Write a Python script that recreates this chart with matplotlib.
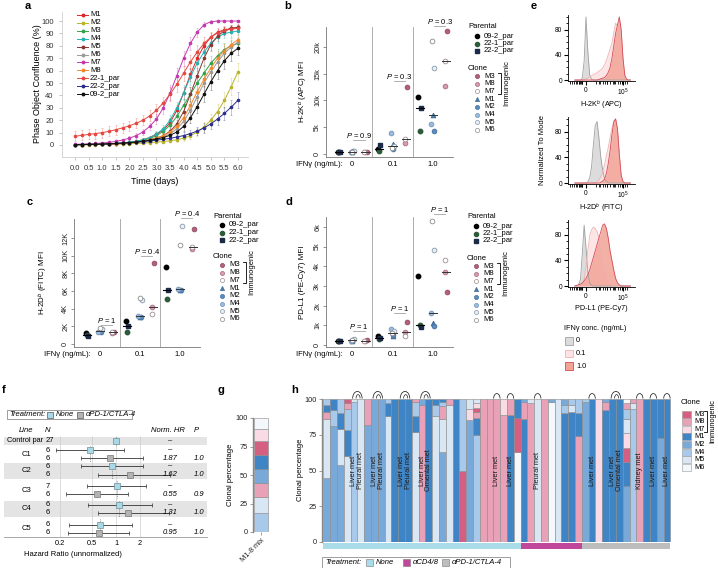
import matplotlib
matplotlib.use("Agg")
import numpy as np
import matplotlib.pyplot as plt
from matplotlib.colors import to_rgba
from matplotlib.patches import Rectangle, Arc

plt.rcParams['font.family'] = ['Liberation Sans', 'DejaVu Sans']
plt.rcParams['font.size'] = 5
plt.rcParams['mathtext.fontset'] = 'custom'
plt.rcParams['mathtext.rm'] = 'Liberation Sans'
plt.rcParams['mathtext.it'] = 'Liberation Sans:italic'
plt.rcParams['mathtext.bf'] = 'Liberation Sans:bold'
plt.rcParams['axes.linewidth'] = 0.6
plt.rcParams['xtick.major.size'] = 2
plt.rcParams['ytick.major.size'] = 2
plt.rcParams['xtick.major.width'] = 0.5
plt.rcParams['ytick.major.width'] = 0.5
plt.rcParams['xtick.major.pad'] = 1.5
plt.rcParams['ytick.major.pad'] = 1.5

# ---------------- data: panel a (growth curves) ----------------
time_days = [0.0, 0.25, 0.5, 0.75, 1.0, 1.25, 1.5, 1.75, 2.0, 2.25, 2.5, 2.75, 3.0,
             3.25, 3.5, 3.75, 4.0, 4.25, 4.5, 4.75, 5.0, 5.25, 5.5, 5.75, 6.0]
conf_M1 = [0.2, 0.3, 0.4, 0.5, 0.7, 0.9, 1.2, 1.6, 2.2, 3.0, 4.2, 6.0, 8.5, 12, 18, 28, 42, 57, 70, 80, 87, 91, 93, 94, 95]
conf_M2 = [0.1, 0.2, 0.2, 0.3, 0.4, 0.5, 0.6, 0.8, 1.0, 1.2, 1.5, 1.9, 2.3, 2.8, 3.4, 4.2, 5.5, 7.5, 10.5, 14.5, 20, 27, 36, 47, 59]
conf_M3 = [0.2, 0.3, 0.4, 0.5, 0.7, 0.9, 1.2, 1.6, 2.1, 2.8, 3.8, 5.2, 7.5, 11, 16, 23, 32, 41, 50, 58, 66, 72, 77, 80, 82]
conf_M4 = [0.2, 0.3, 0.4, 0.5, 0.7, 0.9, 1.2, 1.6, 2.2, 3.0, 4.2, 6.0, 9, 13, 20, 30, 42, 55, 66, 75, 82, 87, 90, 91, 92]
conf_M5 = [0.2, 0.3, 0.4, 0.5, 0.6, 0.8, 1.0, 1.3, 1.7, 2.3, 3.0, 4.0, 5.5, 7.5, 11, 17, 27, 41, 56, 70, 81, 88, 92, 94, 95]
conf_M6 = [0.2, 0.3, 0.4, 0.5, 0.6, 0.8, 1.0, 1.3, 1.7, 2.2, 2.8, 3.6, 4.8, 6.5, 9, 13, 19, 28, 39, 50, 59, 67, 74, 79, 83]
conf_M7 = [0.5, 0.7, 0.9, 1.2, 1.6, 2.1, 2.9, 4.0, 5.5, 7.5, 10.5, 15, 21, 30, 42, 56, 70, 82, 91, 97, 99.5, 100, 100, 100, 100]
conf_M8 = [0.2, 0.3, 0.4, 0.5, 0.6, 0.8, 1.0, 1.3, 1.7, 2.3, 3.0, 4.0, 5.5, 7.5, 10.5, 15, 22, 32, 43, 53, 62, 70, 76, 81, 85]
conf_22_1 = [7.0, 7.8, 8.5, 9.2, 10, 11, 12.3, 13.8, 15.5, 17.5, 20, 23.5, 28, 34, 41, 49, 58, 67, 75, 82, 87, 90.5, 92.5, 93.5, 94]
conf_22_2 = [0.3, 0.4, 0.5, 0.6, 0.8, 1.0, 1.2, 1.5, 1.9, 2.3, 2.8, 3.3, 3.9, 4.6, 5.4, 6.4, 7.6, 9.2, 11.2, 13.8, 17, 21, 25.5, 30.5, 36]
conf_09_2 = [0.2, 0.3, 0.4, 0.5, 0.7, 0.9, 1.2, 1.5, 1.9, 2.4, 3.0, 3.8, 4.8, 6, 7.8, 10.5, 15, 22, 31, 41, 51, 60, 68, 74, 78]

err_M1 = [0.4, 0.4, 0.4, 0.5, 0.5, 0.6, 0.7, 0.8, 0.9, 1.0, 1.2, 1.5, 2, 2.5, 3.5, 4.5, 5, 5, 4.5, 4, 3, 2.5, 2, 2, 2]
err_M2 = [0.3, 0.3, 0.3, 0.3, 0.3, 0.4, 0.4, 0.5, 0.5, 0.6, 0.7, 0.8, 0.9, 1, 1.2, 1.5, 2, 2.5, 3, 4, 5, 6, 6.5, 7, 7]
err_M3 = [0.4, 0.4, 0.4, 0.5, 0.5, 0.6, 0.7, 0.8, 0.9, 1.0, 1.2, 1.5, 2, 2.5, 3.5, 4.5, 5.5, 6, 6.5, 6.5, 6, 5.5, 5, 4.5, 4]
err_M4 = [0.4, 0.4, 0.4, 0.5, 0.5, 0.6, 0.7, 0.8, 0.9, 1.0, 1.2, 1.5, 2, 3, 4, 5, 6, 6.5, 6.5, 6, 5, 4.5, 4, 3.5, 3]
err_M5 = [0.3, 0.3, 0.4, 0.4, 0.5, 0.5, 0.6, 0.7, 0.8, 0.9, 1.0, 1.2, 1.5, 2, 2.5, 3.5, 4.5, 5.5, 6, 6, 5, 4, 3.5, 3, 3]
err_M6 = [0.3, 0.3, 0.4, 0.4, 0.5, 0.5, 0.6, 0.7, 0.8, 0.9, 1.0, 1.2, 1.5, 2, 2.5, 3, 4, 5, 6, 6.5, 6.5, 6, 5.5, 5, 4.5]
err_M7 = [0.5, 0.5, 0.5, 0.6, 0.7, 0.8, 1, 1.2, 1.5, 2, 2.5, 3, 4, 5, 6, 6.5, 6, 5, 3.5, 2, 1, 0.5, 0.5, 0.5, 0.5]
err_M8 = [0.3, 0.3, 0.4, 0.4, 0.5, 0.5, 0.6, 0.7, 0.8, 0.9, 1.0, 1.2, 1.5, 2, 2.5, 3.5, 4.5, 5.5, 6, 6.5, 6.5, 6, 5.5, 5, 4.5]
err_22_1 = [4, 4, 4, 4, 4, 4, 4, 4, 4, 4, 4, 4.5, 5, 5, 5.5, 6, 6, 6, 5.5, 5, 4.5, 4, 3.5, 3, 3]
err_22_2 = [0.4, 0.4, 0.4, 0.5, 0.5, 0.6, 0.7, 0.8, 0.9, 1, 1.2, 1.4, 1.6, 1.8, 2, 2.3, 2.6, 3, 3.5, 4, 4.5, 5, 5.5, 6, 6.5]
err_09_2 = [0.3, 0.3, 0.3, 0.4, 0.4, 0.5, 0.6, 0.7, 0.8, 0.9, 1, 1.2, 1.5, 1.8, 2.2, 2.8, 3.5, 4.5, 5.5, 6.5, 7, 7, 6.5, 6, 5.5]

growth_names = ["M1", "M2", "M3", "M4", "M5", "M6", "M7", "M8", "22-1_par", "22-2_par", "09-2_par"]
growth_vals = [conf_M1, conf_M2, conf_M3, conf_M4, conf_M5, conf_M6, conf_M7, conf_M8, conf_22_1, conf_22_2, conf_09_2]
growth_errs = [err_M1, err_M2, err_M3, err_M4, err_M5, err_M6, err_M7, err_M8, err_22_1, err_22_2, err_09_2]
growth_colors = ["#e0262c", "#b9b42a", "#33a24c", "#22b2b0", "#8a3636", "#9a9a9a",
                 "#c43aae", "#f2892c", "#e5483f", "#2c2d8c", "#111111"]

# ---------------- data: panels b, c, d (MFI) ----------------
dose_labels = ["0", "0.1", "1.0"]
par_names = ["09-2_par", "22-1_par", "22-2_par"]
clone_names = ["M3", "M8", "M7", "M1", "M2", "M4", "M5", "M6"]

h2kb_par = [[400, 350, 420], [1000, 500, 1600], [10600, 4200, 8500]]
h2kb_clone = [[350, 400, 300, 450, 500, 400, 550, 450],
              [12500, 2000, 2800, 1900, 1000, 4000, 1500, 1200],
              [23000, 12700, 17300, 7200, 4200, 5600, 16000, 21000]]
h2db_par = [[1300, 1000, 900], [2600, 1400, 2000], [8700, 5100, 6100]]
h2db_clone = [[1400, 1300, 1350, 1500, 1400, 1350, 1700, 1800],
              [9200, 4200, 3400, 3100, 3000, 3200, 5000, 5200],
              [13000, 10700, 11000, 6100, 6100, 6200, 13400, 11200]]
pdl1_par = [[220, 200, 190], [450, 330, 380], [3500, 1000, 900]]
pdl1_clone = [[250, 200, 180, 230, 250, 230, 300, 260],
              [1150, 650, 450, 450, 500, 800, 700, 600],
              [2700, 3700, 4300, 1100, 950, 1650, 4800, 6300]]
p_h2kb = ["0.9", "0.3", "0.3"]
p_h2db = ["1", "0.4", "0.4"]
p_pdl1 = ["1", "1", "1"]

# ---------------- data: panel e (flow histograms) ----------------
flow_x = [-1.5, -1.25, -1.0, -0.75, -0.5, -0.25, 0.0, 0.25, 0.5, 0.75, 1.0, 1.25, 1.5, 1.75, 2.0, 2.25,
          2.5, 2.75, 3.0, 3.25, 3.5, 3.75, 4.0, 4.25, 4.5, 4.75, 5.0, 5.25, 5.5, 5.75, 6.0]
k_ifn0 = [0, 0, 0, 0, 3, 30, 100, 45, 8, 1, 0, 0, 0, 0, 0, 0, 0, 0, 0, 0, 0, 0, 0, 0, 0, 0, 0, 0, 0, 0, 0]
k_ifn01 = [0, 0, 0, 0, 0, 1, 2, 3, 5, 7, 9, 10, 12, 14, 16, 19, 24, 31, 40, 49, 58, 75, 90, 86, 93, 70, 26, 5, 0, 0, 0]
k_ifn1 = [0, 0, 0, 0, 0, 0, 0, 0, 0, 0, 0, 0, 0, 1, 2, 3, 4, 7, 12, 20, 34, 54, 74, 87, 100, 80, 34, 7, 1, 0, 0]
d_ifn0 = [0, 0, 0, 0, 0, 0, 0, 2, 8, 25, 60, 90, 96, 70, 40, 20, 7, 2, 0, 0, 0, 0, 0, 0, 0, 0, 0, 0, 0, 0, 0]
d_ifn01 = [0, 0, 0, 0, 0, 0, 0, 0, 0, 0, 0, 0, 2, 5, 10, 17, 28, 42, 55, 70, 85, 97, 100, 80, 40, 10, 2, 0, 0, 0, 0]
d_ifn1 = [0, 0, 0, 0, 0, 0, 0, 0, 0, 0, 0, 0, 0, 0, 1, 3, 6, 15, 30, 50, 75, 95, 100, 85, 45, 12, 2, 0, 0, 0, 0]
p_ifn0 = [0, 0, 2, 10, 50, 95, 60, 20, 5, 1, 0, 0, 0, 0, 0, 0, 0, 0, 0, 0, 0, 0, 0, 0, 0, 0, 0, 0, 0, 0, 0]
p_ifn01 = [0, 0, 0, 0, 3, 10, 30, 55, 78, 88, 92, 90, 85, 75, 60, 45, 30, 18, 10, 5, 2, 0, 0, 0, 0, 0, 0, 0, 0, 0, 0]
p_ifn1 = [0, 1, 2, 3, 5, 8, 12, 18, 25, 35, 45, 55, 65, 75, 85, 95, 97, 90, 75, 55, 40, 25, 12, 5, 2, 0, 0, 0, 0, 0, 0]
ifn_levels = ["0", "0.1", "1.0"]

# ---------------- data: panel f (forest) ----------------
f_lines = ["Control par", "C1", "C2", "C3", "C4", "C5"]
hr_none = [1.0, 0.47, 0.89, 1.02, 1.09, 0.63]
hr_none_lo = [0.95, 0.18, 0.36, 0.43, 0.45, 0.26]
hr_none_hi = [1.05, 1.26, 2.2, 2.4, 2.8, 1.58]
hr_apd = [0.85, 1.5, 0.58, 1.4, 0.61]
hr_apd_lo = [0.36, 0.6, 0.24, 0.6, 0.25]
hr_apd_hi = [2.2, 4.7, 1.4, 4.6, 1.46]
n_none = ["27", "6", "6", "7", "6", "6"]
n_apd = ["6", "6", "6", "6", "6"]
norm_hr = ["1.87", "1.62", "0.55", "1.31", "0.95"]
f_pvals = ["1.0", "1.0", "0.9", "1.0", "1.0"]

# ---------------- data: panel g ----------------
mix_clones = ["M4", "M5", "M8", "M2", "M1", "M3", "M7", "M6"]
mix_pct = [16.8, 13.5, 12.9, 12.4, 12.0, 12.4, 10.3, 9.7]

# ---------------- data: panel h (51 tumours, % per clone) ----------------
h_M3 = [0, 0, 0, 3, 0, 0, 0, 0, 0, 0, 0, 0, 0, 0, 0, 0, 0, 0, 0, 0, 50, 0, 3, 0, 0, 0, 0, 0, 24, 0,
        0, 0, 0, 0, 0, 0, 0, 0, 0, 0, 0, 0, 0, 0, 10, 0, 0, 0, 0, 0, 0]
h_M8 = [5, 0, 0, 4, 0, 0, 18, 0, 0, 0, 0, 0, 0, 2, 96, 0, 0, 9, 4, 0, 0, 0, 4, 100, 100, 100, 89, 11, 0, 12,
        97, 0, 100, 0, 0, 0, 0, 74, 0, 0, 0, 6, 0, 0, 4, 3, 100, 0, 0, 0, 0]
h_M7 = [0, 0, 0, 0, 0, 0, 0, 0, 0, 0, 0, 0, 0, 0, 0, 0, 0, 0, 0, 0, 0, 8, 3, 0, 0, 0, 11, 0, 0, 0,
        0, 0, 0, 0, 0, 0, 0, 0, 0, 0, 100, 0, 0, 0, 10, 0, 0, 0, 0, 0, 0]
h_M1 = [5, 8, 11, 18, 0, 0, 0, 0, 0, 9, 100, 100, 100, 11, 0, 100, 4, 2, 0, 100, 0, 0, 12, 0, 0, 0, 0, 89, 13, 86,
        0, 0, 0, 0, 0, 90, 91, 16, 0, 100, 0, 92, 100, 100, 17, 0, 0, 100, 100, 27, 100]
h_M2 = [45, 81, 54, 0, 0, 0, 82, 100, 100, 0, 0, 0, 0, 0, 4, 0, 0, 63, 0, 0, 0, 85, 0, 0, 0, 0, 0, 0, 0, 2,
        0, 0, 0, 2, 0, 4, 0, 0, 98, 0, 0, 2, 0, 0, 39, 0, 0, 0, 0, 73, 0]
h_M4 = [4, 11, 10, 15, 98, 0, 0, 0, 0, 3, 0, 0, 0, 10, 0, 0, 8, 3, 0, 0, 50, 0, 75, 0, 0, 0, 0, 0, 0, 0,
        0, 0, 0, 0, 0, 6, 4, 10, 2, 0, 0, 0, 0, 0, 7, 93, 0, 0, 0, 0, 0]
h_M5 = [41, 0, 25, 60, 2, 100, 0, 0, 0, 88, 0, 0, 0, 77, 0, 0, 88, 23, 96, 0, 0, 7, 3, 0, 0, 0, 0, 0, 0, 0,
        3, 100, 0, 0, 100, 0, 5, 0, 0, 0, 0, 0, 0, 0, 10, 4, 0, 0, 0, 0, 0]
h_M6 = [0, 0, 0, 0, 0, 0, 0, 0, 0, 0, 0, 0, 0, 0, 0, 0, 0, 0, 0, 0, 0, 0, 0, 0, 0, 0, 0, 0, 63, 0,
        0, 0, 0, 98, 0, 0, 0, 0, 0, 0, 0, 0, 0, 0, 3, 0, 0, 0, 0, 0, 0]
h_treat_names = ["None", "αCD4/8", "αPD-1/CTLA-4"]
h_treat_counts = [29, 9, 13]
h_sites = {4: "Liver met", 5: "Pleural met", 7: "Liver met", 8: "Pleural met", 11: "Liver met",
           12: "Pleural met", 14: "Liver met", 15: "Omental met", 25: "Liver met", 27: "Liver met",
           31: "Pleural met", 39: "Liver met", 42: "Liver met", 43: "Omental met", 46: "Kidney met",
           48: "Liver met", 50: "Liver met"}
h_pair_links = [4, 7, 11, 14, 42]
h_single_links = [25, 27, 31, 39, 46, 48, 50]

# ---------------- styles ----------------
clone_fill = {"M3": "#d45f80", "M8": "#e9a1b7", "M7": "#f9dbe5", "M1": "#3f85c5",
              "M2": "#79a9d8", "M4": "#a9c9ea", "M5": "#d9e7f5", "M6": "#f4f7fb"}
treat_colors = ["#a9dbe9", "#c1479b", "#bdbdbd"]
par_marker = ["o", "o", "s"]
par_face = ["#000000", "#2d5a3a", "#1c2a4a"]
cl_marker = ["o", "o", "o", "^", "o", "o", "o", "o"]
cl_face = ["#b5607a", "#d99aae", "#ffffff", "#4c7fb0", "#5a8cc0", "#9dbbdc", "#e6eef7", "#ffffff"]
cl_edge = ["#8e4a5e", "#a8707f", "#a08c92", "#3e6a95", "#44729f", "#7195bd", "#8a99a8", "#8a8a8a"]
par_jit = [-0.03, 0.0, 0.03]
cl_jit = [0.03, -0.02, -0.03, 0.0, 0.02, -0.04, 0.04, -0.01]

W, H = 718, 568
fig = plt.figure(figsize=(W / 100, H / 100), dpi=100)


def px_axes(l, t, r, b):
    return fig.add_axes([l / W, 1 - b / H, (r - l) / W, (b - t) / H])


ov = fig.add_axes([0, 0, 1, 1], zorder=10)
ov.set_xlim(0, W)
ov.set_ylim(H, 0)
ov.axis('off')

for letter, lx, ly in [("a", 25, 1), ("b", 284, 1), ("c", 27, 197), ("d", 286, 197),
                       ("e", 531, 1), ("f", 2, 385), ("g", 217, 385), ("h", 291, 385)]:
    ov.text(lx, ly, letter, fontsize=8, fontweight='bold', va='top')

# ---------------- panel a ----------------
axa = px_axes(62, 12, 248, 157)
for vals, errs, col in zip(growth_vals, growth_errs, growth_colors):
    axa.errorbar(time_days, vals, yerr=errs, color=col, lw=0.7, marker='o', ms=1.6,
                 elinewidth=0.4, capsize=1.0, capthick=0.4, ecolor=to_rgba(col, 0.5))
axa.set_xlim(-0.48, 6.37)
axa.set_ylim(-9.7, 107.3)
xt = [0, 0.5, 1, 1.5, 2, 2.5, 3, 3.5, 4, 4.5, 5, 5.5, 6]
axa.set_xticks(xt)
axa.set_xticklabels([f"{v:.1f}" for v in xt])
axa.set_yticks(range(0, 101, 10))
for s in ['top', 'right']:
    axa.spines[s].set_visible(False)
for s in ['left', 'bottom']:
    axa.spines[s].set_color('#d0d0d0')
axa.tick_params(colors='#b0b0b0', labelcolor='#333333', labelsize=5.5, pad=4)
ov.text(155, 181, "Time (days)", ha='center', va='center', fontsize=6.5)
ov.text(38, 84, "Phase Object Confluence (%)", ha='center', va='center', rotation=90, fontsize=6.5)
for k, (name, col) in enumerate(zip(growth_names, growth_colors)):
    y = 15 + 7.9 * k
    ov.plot([77, 88], [y, y], color=col, lw=0.7)
    ov.plot(82.5, y, 'o', color=col, ms=1.8)
    ov.text(90, y, name, va='center', fontsize=5.5)


# ---------------- panels b, c, d ----------------
def mfi_legend(x0, y0):
    ov.text(x0, y0, "Parental", fontsize=5.5, va='center')
    for j in range(3):
        y = y0 + 9 + 7.5 * j
        ov.plot(x0 + 9, y, marker=par_marker[j], color=par_face[j], ms=3, ls='none')
        ov.text(x0 + 16, y, par_names[j], fontsize=5.5, va='center')
    ov.text(x0, y0 + 41, "Clone", fontsize=5.5, va='center')
    for j in range(8):
        y = y0 + 49 + 7.7 * j
        ov.plot(x0 + 9, y, marker=cl_marker[j], mfc=cl_face[j], mec=cl_edge[j], mew=0.5, ms=3, ls='none')
        ov.text(x0 + 16, y, clone_names[j], fontsize=5.5, va='center')
    ov.plot([x0 + 30, x0 + 33, x0 + 33, x0 + 30], [y0 + 46, y0 + 46, y0 + 67, y0 + 67], color='k', lw=0.6)
    ov.text(x0 + 39, y0 + 56, "Immunogenic", rotation=90, fontsize=5.5, ha='center', va='center')


def mfi_panel(box, par_vals, clone_vals, ylim, yticks, ytlabels, pvals, p_y, ylabel, ylabel_x):
    l, t, r, b = box
    ax = px_axes(l, t, r, b)
    ax.set_xlim(-0.65, 2.5)
    ax.set_ylim(*ylim)
    for xs in (0.5, 1.5):
        ax.axvline(xs, color='#a0a0a0', lw=0.6, zorder=0)
    for d in range(3):
        pv = par_vals[d]
        for j in range(3):
            ax.plot(d - 0.33 + par_jit[j], pv[j], marker=par_marker[j], color=par_face[j],
                    ms=3.2, ls='none', zorder=3)
        ax.plot([d - 0.43, d - 0.23], [np.median(pv)] * 2, color='k', lw=0.8, zorder=4)
        cv = clone_vals[d]
        for j in range(8):
            off = 0.33 if j < 3 else 0.0
            ax.plot(d + off + cl_jit[j], cv[j], marker=cl_marker[j], mfc=cl_face[j], mec=cl_edge[j],
                    mew=0.6, ms=3.4, ls='none', zorder=3)
        ax.plot([d + 0.23, d + 0.43], [np.median(cv[:3])] * 2, color='#333333', lw=0.7, zorder=4)
        ax.plot([d - 0.1, d + 0.1], [np.median(cv[3:])] * 2, color='#333333', lw=0.7, zorder=4)
        ax.plot([d + 0.03, d + 0.31], [p_y[d]] * 2, color='#b0b0b0', lw=0.7, clip_on=False)
        ax.text(d + 0.17, p_y[d], r"$\mathit{P}$ = " + pvals[d], ha='center', va='bottom',
                fontsize=5.5, clip_on=False)
    ax.set_xticks([])
    ax.set_yticks(yticks)
    ax.set_yticklabels(ytlabels, rotation=90, va='center')
    ax.tick_params(labelsize=5.3, colors='#666666', labelcolor='#222222')
    for s in ['top', 'right']:
        ax.spines[s].set_visible(False)
    for s in ['left', 'bottom']:
        ax.spines[s].set_color('#777777')
    ov.text(l + 17, b + 7.5, "IFNγ (ng/mL):", ha='right', va='center', fontsize=5.5)
    for d in range(3):
        ov.text(l + (d + 0.65) / 3.15 * (r - l), b + 7.5, dose_labels[d], ha='center', va='center', fontsize=5.5)
    ov.text(ylabel_x, (t + b) / 2, ylabel, rotation=90, ha='center', va='center', fontsize=5.8)
    return ax


mfi_panel((326, 27, 453, 157), h2kb_par, h2kb_clone, (-560, 23700),
          [0, 5000, 10000, 15000, 20000], ["0", "5k", "10k", "15k", "20k"],
          p_h2kb, [2700, 13600, 23900], "H-2K$^b$ (APC) MFI", 303)
mfi_legend(468, 27)
mfi_panel((74, 219, 200, 347), h2db_par, h2db_clone, (-340, 14150),
          [0, 2000, 4000, 6000, 8000, 10000, 12000], ["0", "2K", "4K", "6K", "8K", "10K", "12K"],
          p_h2db, [2100, 10000, 14300], "H-2D$^b$ (FITC) MFI", 43)
mfi_legend(213, 216)
mfi_panel((326, 217, 453, 347), pdl1_par, pdl1_clone, (-100, 6500),
          [0, 1000, 2000, 3000, 4000, 5000, 6000], ["0", "1k", "2k", "3k", "4k", "5k", "6k"],
          p_pdl1, [700, 1650, 6650], "PD-L1 (PE-Cy7) MFI", 303)
mfi_legend(467, 217)

# ---------------- panel e ----------------
e_boxes = [(568, 15, 635, 81), (568, 117, 635, 184), (568, 220, 635, 287)]
e_hists = [(k_ifn0, k_ifn01, k_ifn1), (d_ifn0, d_ifn01, d_ifn1), (p_ifn0, p_ifn01, p_ifn1)]
e_xlabels = ["H-2K$^b$ (APC)", "H-2D$^b$ (FITC)", "PD-L1 (PE-Cy7)"]
ifn_fill = ["#dcdcdc", "#fde3e3", "#f2a497"]
ifn_edge = ["#a0a0a0", "#efb3b3", "#d34b57"]
ifn_alpha = [1.0, 0.9, 0.85]
e_minor_x = [-2.2, -1.9, -1.6, -1.4, -1.2, -1.0, -0.9, -0.8, -0.7, -0.6, -0.5, 1.3, 1.7, 1.9,
             2.3, 2.6, 2.8, 2.9, 3.3, 3.6, 3.8, 3.9, 4.3, 4.6, 4.8, 4.9, 5.3, 5.6]
for box, hists, lab in zip(e_boxes, e_hists, e_xlabels):
    ax = px_axes(*box)
    for h, fc, ec, a in zip(hists, ifn_fill, ifn_edge, ifn_alpha):
        ax.fill_between(flow_x, h, color=fc, alpha=a, lw=0)
        ax.plot(flow_x, h, color=ec, lw=0.6)
    ax.set_xlim(-2.43, 6.62)
    ax.set_ylim(-1.5, 103)
    ax.set_yticks([0, 40, 80])
    ax.set_yticks(range(10, 101, 10), minor=True)
    ax.set_xticks([0, 5])
    ax.set_xticklabels(["0", "10$^5$"])
    ax.set_xticks(e_minor_x, minor=True)
    ax.tick_params(which='major', length=3, width=0.8, labelsize=4.8, pad=1)
    ax.tick_params(which='minor', length=1.8, width=0.6)
    for s in ['top', 'right']:
        ax.spines[s].set_visible(False)
    ov.text((box[0] + box[2]) / 2, box[3] + 18, lab, ha='center', va='top', fontsize=5.2)
ov.text(542, 150, "Normalized To Mode", rotation=90, ha='center', va='center', fontsize=5.5)
ov.text(564, 328, "IFNγ conc. (ng/mL)", fontsize=5.3, va='center')
for k in range(3):
    y = 341 + 12.5 * k
    ov.add_patch(Rectangle((565, y - 3.8), 7.5, 7.5, facecolor=ifn_fill[k], edgecolor=ifn_edge[k], lw=0.6))
    ov.text(576, y, ifn_levels[k], fontsize=5.3, va='center')


# ---------------- panel f ----------------
def fx(px):
    return (px - 116) / 80.0


axf = px_axes(4, 405, 207, 537)
axf.set_xlim(fx(4), fx(207))
axf.set_ylim(537, 405)
for y0, y1 in [(437, 445), (463, 479), (501, 517)]:
    axf.add_patch(Rectangle((fx(4), y0), fx(207) - fx(4), y1 - y0, color='#e4e4e4', lw=0, zorder=0))
for v in [0.2, 0.5, 1, 2]:
    axf.plot([np.log10(v)] * 2, [436, 537], color='#cdcdcd', lw=0.5, zorder=1)
none_y = [441, 450, 466, 486, 505, 525]
apd_y = [458, 475, 494, 513, 533]
group_span = [(437, 445), (446, 462), (463, 479), (481, 498), (501, 517), (519, 537)]
for k in range(6):
    axf.plot([np.log10(hr_none[k])] * 2, group_span[k], color='#777777', lw=0.6, ls=(0, (1, 1.2)), zorder=1)
lx = np.log10(hr_none)
axf.errorbar(lx, none_y, xerr=[lx - np.log10(hr_none_lo), np.log10(hr_none_hi) - lx], fmt='s',
             ms=4.5, mfc='#a9d8e6', mec='#6f8f99', mew=0.5, ecolor='#333333', elinewidth=0.6,
             capsize=1.2, capthick=0.5, zorder=3)
la = np.log10(hr_apd)
axf.errorbar(la, apd_y, xerr=[la - np.log10(hr_apd_lo), np.log10(hr_apd_hi) - la], fmt='s',
             ms=4.5, mfc='#b3b3b3', mec='#777777', mew=0.5, ecolor='#333333', elinewidth=0.6,
             capsize=1.2, capthick=0.5, zorder=3)
axf.set_xticks(np.log10([0.2, 0.5, 1, 2]))
axf.set_xticklabels(["0.2", "0.5", "1", "2"])
axf.set_yticks([])
axf.tick_params(labelsize=5.3, length=0, pad=2)
for s in ['top', 'right', 'left']:
    axf.spines[s].set_visible(False)
axf.spines['bottom'].set_color('#999999')
ov.text(73, 554, "Hazard Ratio (unnormalized)", ha='center', va='center', fontsize=5.5)
for txt, x, ha in [("Line", 26, 'center'), ("N", 48, 'center'), ("Norm. HR", 168, 'center'), ("P", 196, 'center')]:
    ov.text(x, 431, txt, ha=ha, va='center', fontsize=5.5, style='italic')
ov.text(25, 441, f_lines[0], ha='center', va='center', fontsize=5.3)
ov.text(46, 441, n_none[0], va='center', fontsize=5.5)
ov.text(170, 441, "–", ha='center', va='center', fontsize=5.5)
for k in range(1, 6):
    ov.text(26, (none_y[k] + apd_y[k - 1]) / 2, f_lines[k], ha='center', va='center', fontsize=5.5)
    ov.text(46, none_y[k], n_none[k], va='center', fontsize=5.5)
    ov.text(46, apd_y[k - 1], n_apd[k - 1], va='center', fontsize=5.5)
    ov.text(170, none_y[k], "–", ha='center', va='center', fontsize=5.5)
    ov.text(170, apd_y[k - 1], norm_hr[k - 1], ha='center', va='center', fontsize=5.5, style='italic')
    ov.text(199, apd_y[k - 1], f_pvals[k - 1], ha='center', va='center', fontsize=5.5, style='italic')
ov.add_patch(Rectangle((7, 410), 125, 9, facecolor='white', edgecolor='#777777', lw=0.5))
ov.text(9, 414.5, "Treatment:", va='center', fontsize=5.5, style='italic')
ov.add_patch(Rectangle((47, 411.5), 6, 6, facecolor='#a9d8e6', edgecolor='#555555', lw=0.5))
ov.text(56, 414.5, "None", va='center', fontsize=5.5, style='italic')
ov.add_patch(Rectangle((77, 411.5), 6, 6, facecolor='#b3b3b3', edgecolor='#555555', lw=0.5))
ov.text(86, 414.5, "αPD-1/CTLA-4", va='center', fontsize=5.5, style='italic')

# ---------------- panel g ----------------
axg = px_axes(253, 418, 270, 532)
bottom = 0
for c, p in zip(mix_clones, mix_pct):
    axg.bar(0, p, bottom=bottom, width=0.95, color=clone_fill[c], edgecolor='#8a8a8a', lw=0.4)
    bottom += p
axg.set_xlim(-0.55, 0.6)
axg.set_ylim(0, 100)
axg.set_yticks([0, 25, 50, 75, 100])
axg.set_xticks([0])
axg.set_xticklabels(["M1-8 mix"], rotation=45, ha='right', rotation_mode='anchor')
axg.tick_params(labelsize=5.3, colors='#777777', labelcolor='#222222')
for s in ['top', 'right', 'bottom']:
    axg.spines[s].set_visible(False)
axg.spines['left'].set_color('#888888')
axg.spines['left'].set_linewidth(1.0)
ov.text(231, 475, "Clonal percentage", rotation=90, ha='center', va='center', fontsize=5.5)

# ---------------- panel h ----------------
axh = px_axes(322, 399, 671, 542)
h_vals = [h_M3, h_M8, h_M7, h_M1, h_M2, h_M4, h_M5, h_M6]
n_bars = len(h_M1)
for i in range(n_bars):
    order = sorted(range(8), key=lambda c: -h_vals[c][i])
    bottom = 0
    for c in order:
        v = h_vals[c][i]
        if v <= 0:
            continue
        axh.bar(i + 0.5, v, bottom=bottom, width=1.0, color=clone_fill[clone_names[c]],
                edgecolor='#8a8a8a', lw=0.4)
        bottom += v
start = 0
for name, cnt, col in zip(h_treat_names, h_treat_counts, treat_colors):
    axh.add_patch(Rectangle((start, -5.2), cnt, 4.6, color=col, lw=0, clip_on=False))
    start += cnt
for i, lab in h_sites.items():
    axh.text(i + 0.5, 50, lab, rotation=90, ha='center', va='center', fontsize=5.3, color='#1a1a1a')
for i in h_pair_links:
    axh.add_patch(Arc((i + 1.0, 100.3), 1.4, 10, theta1=0, theta2=180, color='#222222', lw=0.55, clip_on=False))
    axh.add_patch(Arc((i + 1.1, 100.3), 0.6, 5.5, theta1=20, theta2=170, color='#222222', lw=0.5, clip_on=False))
for i in h_single_links:
    axh.add_patch(Arc((i + 0.5, 100.3), 0.95, 7, theta1=0, theta2=180, color='#222222', lw=0.55, clip_on=False))
axh.set_xlim(-0.2, 51.1)
axh.set_ylim(0, 100)
axh.set_xticks([])
axh.set_yticks([0, 25, 50, 75, 100])
axh.tick_params(labelsize=5.3, colors='#777777', labelcolor='#222222')
for s in ['top', 'right', 'bottom']:
    axh.spines[s].set_visible(False)
axh.spines['left'].set_color('#888888')
axh.spines['left'].set_linewidth(1.0)
ov.text(300, 470, "Clonal percentage", rotation=90, ha='center', va='center', fontsize=5.5)

ov.text(681, 402, "Clone", fontsize=5.5, va='center')
for j, c in enumerate(clone_names):
    y = 414 + 7.6 * j
    ov.add_patch(Rectangle((682, y - 3.5), 9, 7, facecolor=clone_fill[c], edgecolor='#999999', lw=0.4))
    ov.text(694, y, c, fontsize=5.3, va='center')
ov.plot([704, 707, 707, 704], [411, 411, 432, 432], color='k', lw=0.6)
ov.text(713, 421, "Immunogenic", rotation=90, ha='center', va='center', fontsize=5.3)

ov.add_patch(Rectangle((322, 556.5), 188, 11, facecolor='white', edgecolor='#777777', lw=0.5, clip_on=False))
ov.text(325, 562, "Treatment:", va='center', fontsize=5.5, style='italic')
leg_x = [366, 403, 442]
for name, col, x in zip(h_treat_names, treat_colors, leg_x):
    ov.add_patch(Rectangle((x, 558.5), 7, 7, facecolor=col, edgecolor='#777777', lw=0.4))
    ov.text(x + 10, 562, name, va='center', fontsize=5.5, style='italic')

fig.savefig("out.png", dpi=100)
